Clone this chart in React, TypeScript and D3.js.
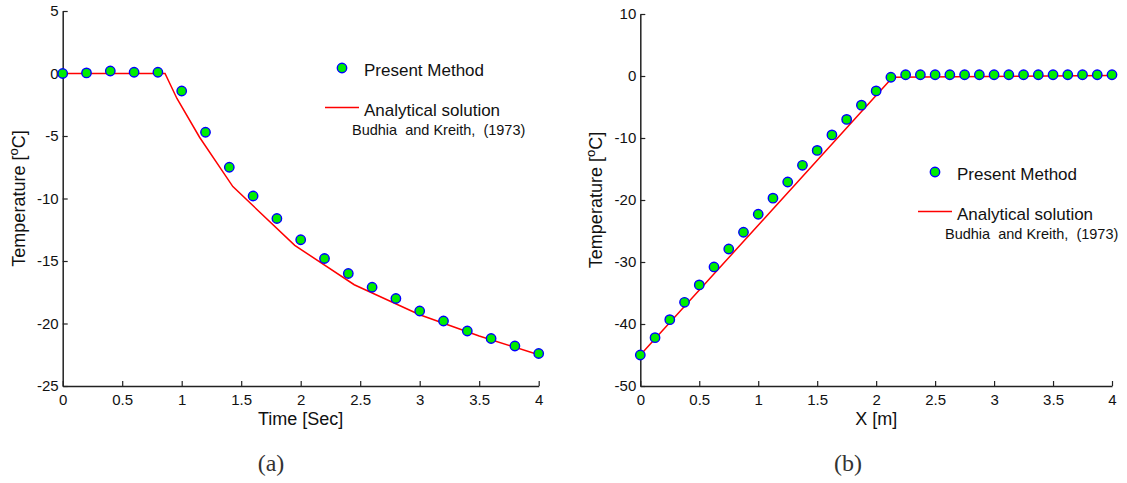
import React, { useEffect, useRef } from 'react';
import * as d3 from 'd3';

// panel (a): temperature vs time
const timeSamples = [0, 0.2, 0.4, 0.6, 0.8, 1.0, 1.2, 1.4, 1.6, 1.8, 2.0, 2.2, 2.4, 2.6, 2.8, 3.0, 3.2, 3.4, 3.6, 3.8, 4.0];
const timeMethod = [0, 0.05, 0.2, 0.1, 0.1, -1.4, -4.7, -7.5, -9.8, -11.6, -13.3, -14.8, -16.0, -17.1, -18.0, -19.0, -19.8, -20.6, -21.2, -21.8, -22.4];
const timeExactT = [0, 0.86, 0.96, 1.15, 1.43, 1.95, 2.45, 3.0, 3.5, 4.0];
const timeExactV = [0, 0, -2.0, -5.1, -9.05, -13.75, -16.9, -19.3, -21.0, -22.5];

// panel (b): temperature vs position
const xSamples = [0, 0.125, 0.25, 0.375, 0.5, 0.625, 0.75, 0.875, 1.0, 1.125, 1.25, 1.375, 1.5, 1.625, 1.75, 1.875, 2.0, 2.125,
  2.25, 2.375, 2.5, 2.625, 2.75, 2.875, 3.0, 3.125, 3.25, 3.375, 3.5, 3.625, 3.75, 3.875, 4.0];
const xMethod = [-45, -42.2, -39.3, -36.5, -33.7, -30.8, -27.9, -25.2, -22.3, -19.7, -17.1, -14.4, -12.0, -9.5, -7.0, -4.7, -2.4, -0.2,
  0.2, 0.2, 0.2, 0.2, 0.2, 0.2, 0.2, 0.2, 0.2, 0.2, 0.2, 0.2, 0.2, 0.2, 0.2];
const xExactX = [0, 2.14, 4.0];
const xExactV = [-45, -0.2, 0.1];

const xTicks = [0, 0.5, 1, 1.5, 2, 2.5, 3, 3.5, 4];
const yTicksA = [5, 0, -5, -10, -15, -20, -25];
const yTicksB = [10, 0, -10, -20, -30, -40, -50];

const legendMethod = 'Present Method';
const legendExact = 'Analytical solution';
const legendRef = 'Budhia  and Kreith,  (1973)';

const SANS = '"Liberation Sans", Arial, sans-serif';

const App = () => {
  const svgRef = useRef(null);

  useEffect(() => {
    const svg = d3.select(svgRef.current);
    svg.selectAll('*').remove();

    const drawPanel = (opts) => {
      const { left, right, top, bottom, yDomain, yTicks, xs, ys, lx, ly, xLabel, caption, captionX, yLabelX, legX, legY } = opts;
      const x = d3.scaleLinear().domain([0, 4]).range([left, right]);
      const y = d3.scaleLinear().domain(yDomain).range([bottom, top]);
      const g = svg.append('g');

      // axes (left + bottom only, inward ticks)
      const xAxis = g.append('g')
        .attr('transform', `translate(0,${bottom})`)
        .call(d3.axisBottom(x).tickValues(xTicks).tickSizeInner(-5).tickSizeOuter(0).tickFormat(d => String(d)));
      const yAxis = g.append('g')
        .attr('transform', `translate(${left},0)`)
        .call(d3.axisLeft(y).tickValues(yTicks).tickSizeInner(-5).tickSizeOuter(0).tickFormat(d => String(d)));
      [xAxis, yAxis].forEach(a => {
        a.select('.domain').attr('stroke', '#222').attr('stroke-width', 1.5);
        a.selectAll('.tick line').attr('stroke', '#222').attr('stroke-width', 1.2);
        a.selectAll('.tick text').attr('font-family', SANS).attr('font-size', 15).attr('fill', '#111');
      });
      yAxis.selectAll('.tick text').attr('x', -4);
      xAxis.selectAll('.tick text').attr('y', 8);

      // analytical line
      const line = d3.line().x(d => x(d[0])).y(d => y(d[1]));
      g.append('path')
        .datum(lx.map((v, i) => [v, ly[i]]))
        .attr('d', line)
        .attr('fill', 'none')
        .attr('stroke', '#ff0000')
        .attr('stroke-width', 1.5);

      // present method markers
      g.selectAll('.pt')
        .data(xs.map((v, i) => [v, ys[i]]))
        .enter().append('circle')
        .attr('class', 'pt')
        .attr('cx', d => x(d[0]))
        .attr('cy', d => y(d[1]))
        .attr('r', 4.7)
        .attr('fill', '#00ee00')
        .attr('stroke', '#0000ff')
        .attr('stroke-width', 1.4);

      // labels
      g.append('text')
        .attr('x', (left + right) / 2)
        .attr('y', 425)
        .attr('text-anchor', 'middle')
        .attr('font-family', SANS)
        .attr('font-size', 18)
        .attr('fill', '#111')
        .text(xLabel);

      const yl = g.append('text')
        .attr('transform', `translate(${yLabelX},${(top + bottom) / 2}) rotate(-90)`)
        .attr('text-anchor', 'middle')
        .attr('font-family', SANS)
        .attr('font-size', 18)
        .attr('fill', '#111');
      yl.append('tspan').text('Temperature [');
      yl.append('tspan').attr('dy', -7).attr('font-size', 13).text('o');
      yl.append('tspan').attr('dy', 7).text('C]');

      g.append('text')
        .attr('x', captionX)
        .attr('y', 471)
        .attr('text-anchor', 'middle')
        .attr('font-family', '"Liberation Serif", "DejaVu Serif", serif')
        .attr('font-size', 24)
        .attr('fill', '#333')
        .text(caption);

      // legend
      g.append('circle')
        .attr('cx', legX - 22).attr('cy', legY)
        .attr('r', 4.7).attr('fill', '#00ee00').attr('stroke', '#0000ff').attr('stroke-width', 1.4);
      g.append('text')
        .attr('x', legX).attr('y', legY + 7.5)
        .attr('font-family', SANS).attr('font-size', 17).attr('fill', '#111')
        .text(legendMethod);
      g.append('line')
        .attr('x1', legX - 39).attr('x2', legX - 5)
        .attr('y1', legY + 39.5).attr('y2', legY + 39.5)
        .attr('stroke', '#ff0000').attr('stroke-width', 1.5);
      g.append('text')
        .attr('x', legX).attr('y', legY + 48)
        .attr('font-family', SANS).attr('font-size', 17).attr('fill', '#111')
        .text(legendExact);
      g.append('text')
        .attr('x', legX - 12).attr('y', legY + 66.5)
        .attr('font-family', SANS).attr('font-size', 14.5).attr('fill', '#111')
        .style('white-space', 'pre')
        .text(legendRef);
    };

    drawPanel({
      left: 62.7, right: 538.7, top: 11, bottom: 386,
      yDomain: [-25, 5], yTicks: yTicksA,
      xs: timeSamples, ys: timeMethod, lx: timeExactT, ly: timeExactV,
      xLabel: 'Time [Sec]', caption: '(a)', captionX: 271, yLabelX: 25,
      legX: 364, legY: 68
    });
    drawPanel({
      left: 640.3, right: 1112, top: 14, bottom: 386,
      yDomain: [-50, 10], yTicks: yTicksB,
      xs: xSamples, ys: xMethod, lx: xExactX, ly: xExactV,
      xLabel: 'X [m]', caption: '(b)', captionX: 848, yLabelX: 602,
      legX: 957, legY: 172
    });
  }, []);

  return (
    <svg ref={svgRef} width={1127} height={483}
      style={{ position: 'absolute', left: 0, top: 0, background: '#fff' }}></svg>
  );
};

export default App;
